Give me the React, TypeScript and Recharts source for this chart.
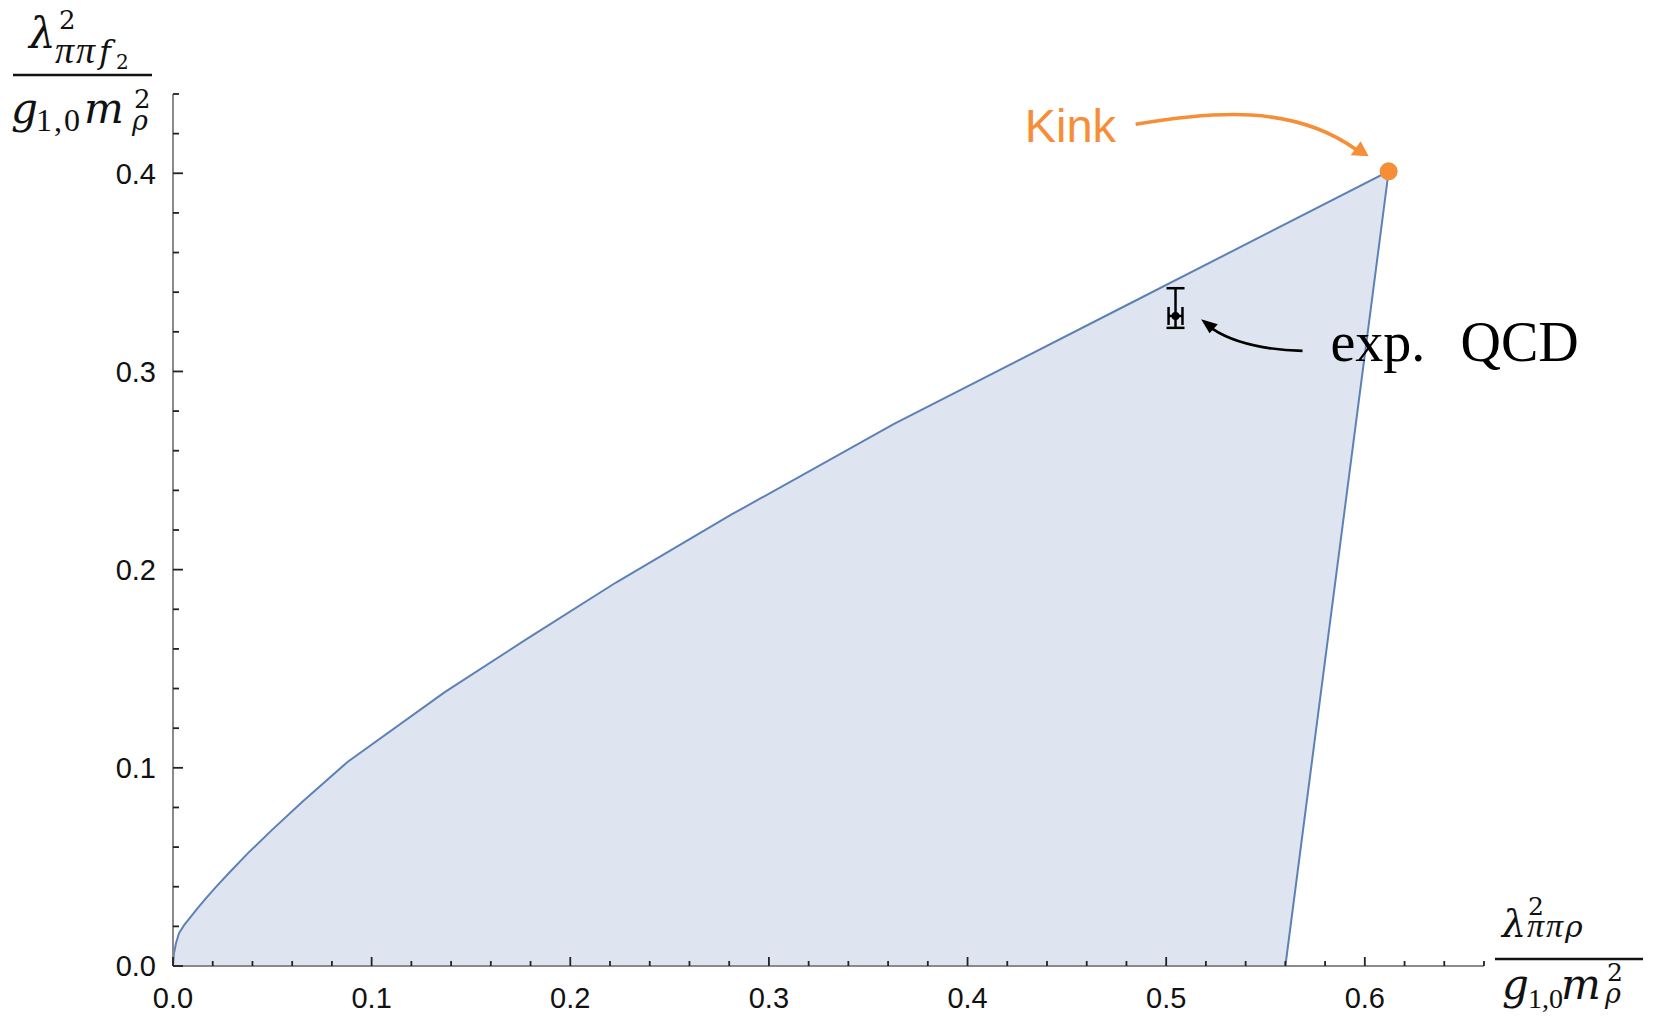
import React from 'react';
import { ComposedChart, Area, Scatter, XAxis, YAxis, ErrorBar } from 'recharts';

// Allowed-region boundary (upper curve, kink, then right edge down to the axis)
const BOUNDARY_X = [0, 0.0005, 0.0015, 0.003, 0.0055, 0.0084, 0.012, 0.016, 0.022, 0.029, 0.038, 0.05, 0.065, 0.088, 0.137, 0.177, 0.223, 0.281, 0.363, 0.48, 0.612, 0.56];
const BOUNDARY_Y = [0, 0.0065, 0.0115, 0.0165, 0.0205, 0.0241, 0.0287, 0.0335, 0.0403, 0.0478, 0.0572, 0.0688, 0.0828, 0.1031, 0.1383, 0.1643, 0.1935, 0.2277, 0.2736, 0.3334, 0.401, 0];

const KINK_X = [0.612];
const KINK_Y = [0.401];

const QCD_X = [0.5047];
const QCD_Y = [0.328];
const QCD_YERR = [[0.006, 0.014]];
const QCD_XERR = [[0.0035, 0.0035]];

const X_TICKS = [0, 0.02, 0.04, 0.06, 0.08, 0.1, 0.12, 0.14, 0.16, 0.18, 0.2, 0.22, 0.24, 0.26, 0.28, 0.3, 0.32, 0.34, 0.36, 0.38, 0.4, 0.42, 0.44, 0.46, 0.48, 0.5, 0.52, 0.54, 0.56, 0.58, 0.6, 0.62, 0.64, 0.66];
const X_LABELS = [0, 0.1, 0.2, 0.3, 0.4, 0.5, 0.6];
const Y_TICKS = [0, 0.02, 0.04, 0.06, 0.08, 0.1, 0.12, 0.14, 0.16, 0.18, 0.2, 0.22, 0.24, 0.26, 0.28, 0.3, 0.32, 0.34, 0.36, 0.38, 0.4, 0.42, 0.44];
const Y_LABELS = [0, 0.1, 0.2, 0.3, 0.4];

const boundaryData = BOUNDARY_X.map((x, i) => ({ x, y: BOUNDARY_Y[i] }));
const kinkData = KINK_X.map((x, i) => ({ x, y: KINK_Y[i] }));
const qcdData = QCD_X.map((x, i) => ({ x, y: QCD_Y[i], ey: QCD_YERR[i], ex: QCD_XERR[i] }));

const BLUE = '#5E81B5';
const FILL = '#dfe5f0';
const ORANGE = '#f68e37';
const AXIS = '#8a8a8a';
const TICK = '#222';
const SANS = '"Liberation Sans", Arial, sans-serif';
const SERIF = '"Liberation Serif", "Times New Roman", serif';
const DJ = '"DejaVu Serif", serif';
const LIB = '"Liberation Serif", serif';

const isLabeled = (v: number, list: number[]) => list.some((l) => Math.abs(l - v) < 1e-9);

const XTick = (props: any) => {
  const { x, y, payload } = props;
  const v = payload.value as number;
  const major = isLabeled(v, X_LABELS);
  return (
    <g>
      <line x1={x} x2={x} y1={y} y2={y - (major ? 9 : 5)} stroke={TICK} strokeWidth={1.8} />
      {major && (
        <text x={x} y={y + 42} textAnchor="middle" fontSize={29} fontFamily={SANS} fill="#111">
          {v.toFixed(1)}
        </text>
      )}
    </g>
  );
};

const YTick = (props: any) => {
  const { x, y, payload } = props;
  const v = payload.value as number;
  const major = isLabeled(v, Y_LABELS);
  return (
    <g>
      <line x1={x} x2={x + (major ? 10 : 6)} y1={y} y2={y} stroke={TICK} strokeWidth={1.8} />
      {major && (
        <text x={x - 17} y={y} dy="0.36em" textAnchor="end" fontSize={29} fontFamily={SANS} fill="#111">
          {v.toFixed(1)}
        </text>
      )}
    </g>
  );
};

const KinkShape = (p: any) => {
  const { cx, cy } = p;
  return (
    <g>
      <path
        d={`M${cx - 253},${cy - 47} C${cx - 176},${cy - 60} ${cx - 96},${cy - 67} ${cx - 33},${cy - 22}`}
        fill="none"
        stroke={ORANGE}
        strokeWidth={3.5}
      />
      <polygon points={`${cx - 20},${cy - 15} ${cx - 38},${cy - 16} ${cx - 28},${cy - 30}`} fill={ORANGE} />
      <text x={cx - 364} y={cy - 29} fontSize={47} fontFamily={SANS} fill={ORANGE}>
        Kink
      </text>
      <circle cx={cx} cy={cy} r={9} fill={ORANGE} />
    </g>
  );
};

const QcdShape = (p: any) => {
  const { cx, cy } = p;
  return (
    <g>
      <circle cx={cx} cy={cy} r={4} fill="#000" />
      <path d={`M${cx + 127},${cy + 35} Q${cx + 67},${cy + 33} ${cx + 37},${cy + 13}`} fill="none" stroke="#000" strokeWidth={2.7} />
      <polygon points={`${cx + 25.6},${cy + 3.3} ${cx + 34},${cy + 17.3} ${cx + 42.3},${cy + 8.3}`} fill="#000" />
      <text x={cx + 155} y={cy + 45} fontSize={56} fontFamily={SERIF} fill="#000">
        exp.
      </text>
      <text x={cx + 285} y={cy + 45} fontSize={56} fontFamily={SERIF} fill="#000">
        QCD
      </text>
    </g>
  );
};

// text, x, baseline, font size, font, italic, letter spacing
type Piece = { t: string; x: number; y: number; s: number; f: string; i?: boolean; ls?: number };

const Y_TITLE: Piece[] = [
  { t: 'λ', x: 29, y: 48, s: 42, f: DJ, i: true },
  { t: '2', x: 59, y: 29, s: 26, f: DJ },
  { t: 'ππ', x: 55, y: 63, s: 38, f: LIB, i: true, ls: 2 },
  { t: 'f', x: 99, y: 63, s: 32, f: DJ, i: true },
  { t: '2', x: 116, y: 69, s: 20, f: DJ },
  { t: 'g', x: 11, y: 123, s: 42, f: DJ, i: true },
  { t: '1,0', x: 36, y: 131, s: 32, f: LIB, ls: 2 },
  { t: 'm', x: 84, y: 123, s: 42, f: DJ, i: true },
  { t: '2', x: 134, y: 108, s: 26, f: DJ },
  { t: 'ρ', x: 132, y: 130, s: 27, f: DJ, i: true },
];

const X_TITLE: Piece[] = [
  { t: 'λ', x: 1502, y: 937, s: 38, f: DJ, i: true },
  { t: '2', x: 1528, y: 915, s: 25, f: DJ },
  { t: 'ππ', x: 1527, y: 937, s: 34, f: LIB, i: true, ls: 2 },
  { t: 'ρ', x: 1565, y: 937, s: 30, f: DJ, i: true },
  { t: 'g', x: 1502, y: 999, s: 42, f: DJ, i: true },
  { t: '1,0', x: 1528, y: 1008, s: 28, f: LIB },
  { t: 'm', x: 1561, y: 999, s: 42, f: DJ, i: true },
  { t: '2', x: 1607, y: 981, s: 25, f: DJ },
  { t: 'ρ', x: 1605, y: 1003, s: 27, f: DJ, i: true },
];

const Titles = () => (
  <svg width={1656} height={1026} style={{ position: 'absolute', left: 0, top: 0, pointerEvents: 'none' }}>
    {[...Y_TITLE, ...X_TITLE].map((p, k) => (
      <text
        key={k}
        x={p.x}
        y={p.y}
        fontSize={p.s}
        fontFamily={p.f}
        fontStyle={p.i ? 'italic' : 'normal'}
        letterSpacing={p.ls ?? 0}
        fill="#111"
      >
        {p.t}
      </text>
    ))}
    <line x1={13} x2={152} y1={75} y2={75} stroke="#111" strokeWidth={2.5} />
    <line x1={1495} x2={1643} y1={959} y2={959} stroke="#111" strokeWidth={2.5} />
  </svg>
);

export default function App() {
  return (
    <div style={{ position: 'absolute', left: 0, top: 0, width: 1656, height: 1026, background: '#fff' }}>
      <ComposedChart width={1656} height={1026} margin={{ top: 94, right: 172, bottom: 0, left: 0 }}>
        <XAxis
          type="number"
          dataKey="x"
          domain={[0, 0.66]}
          ticks={X_TICKS}
          interval={0}
          height={60}
          tickSize={0}
          tickMargin={0}
          tickLine={false}
          axisLine={{ stroke: AXIS, strokeWidth: 2 }}
          tick={<XTick />}
          allowDecimals
        />
        <YAxis
          type="number"
          dataKey="y"
          domain={[0, 0.44]}
          ticks={Y_TICKS}
          interval={0}
          width={173}
          tickSize={0}
          tickMargin={0}
          tickLine={false}
          axisLine={{ stroke: AXIS, strokeWidth: 2 }}
          tick={<YTick />}
        />
        <Area
          data={boundaryData}
          dataKey="y"
          type="linear"
          stroke={BLUE}
          strokeWidth={2}
          fill={FILL}
          fillOpacity={1}
          dot={false}
          activeDot={false}
          isAnimationActive={false}
        />
        <Scatter data={kinkData} dataKey="y" shape={<KinkShape />} isAnimationActive={false} />
        <Scatter data={qcdData} dataKey="y" shape={<QcdShape />} isAnimationActive={false}>
          <ErrorBar dataKey="ey" direction="y" width={9} stroke="#000" strokeWidth={2.5} isAnimationActive={false} />
          <ErrorBar dataKey="ex" direction="x" width={9} stroke="#000" strokeWidth={2.5} isAnimationActive={false} />
        </Scatter>
      </ComposedChart>
      <Titles />
    </div>
  );
}
